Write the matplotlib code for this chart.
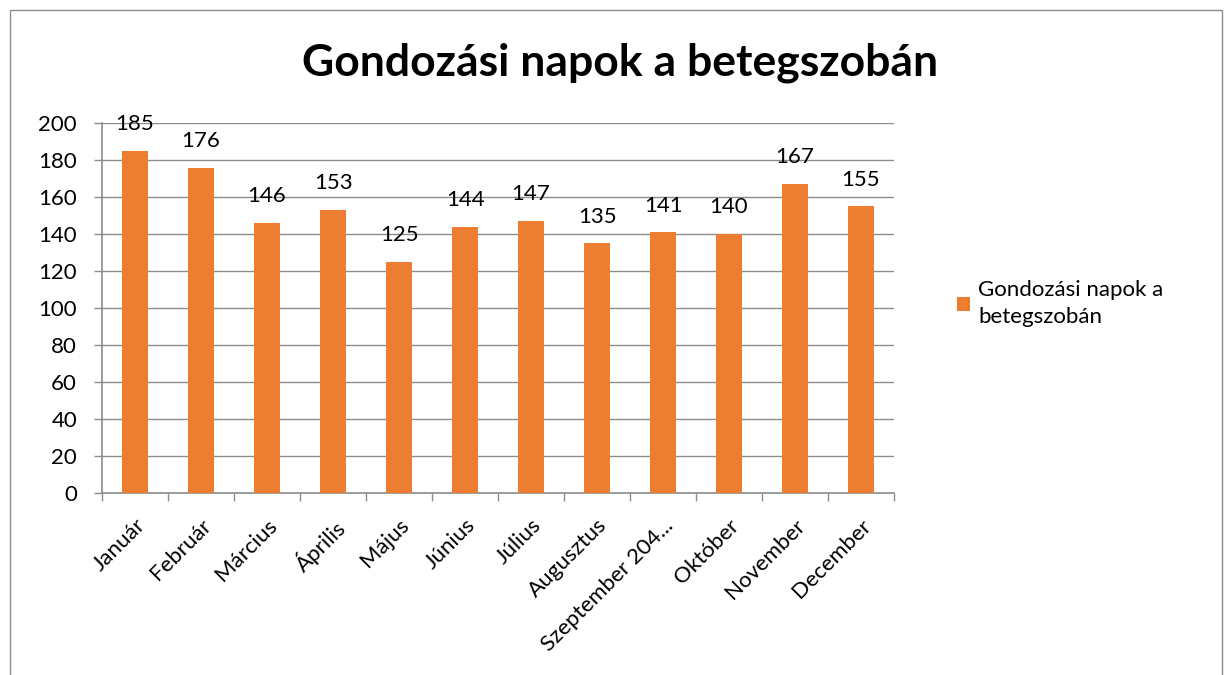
import matplotlib.pyplot as plt
from matplotlib.patches import Rectangle
import numpy as np

plt.rcParams['font.family'] = ['Lato', 'DejaVu Sans']

honapok = ['Január', 'Február', 'Március', 'Április', 'Május', 'Június',
           'Július', 'Augusztus', 'Szeptember 204...', 'Október', 'November', 'December']
napok = [185, 176, 146, 153, 125, 144, 147, 135, 141, 140, 167, 155]
cim = 'Gondozási napok a betegszobán'
jelmagyarazat = 'Gondozási napok a\nbetegszobán'

szurke = '#8c8c8c'
narancs = '#ED7D31'
betu = 16

fig = plt.figure(figsize=(12.25, 6.75), dpi=100)
ax = fig.add_axes([0.0833, 0.2696, 0.6465, 0.548])

x = np.arange(len(honapok))
bars = ax.bar(x, napok, width=0.4, color=narancs, label=jelmagyarazat, zorder=3)
for xi, v in zip(x, napok):
    ax.annotate(str(v), (xi, v), xytext=(0, 12), textcoords='offset points',
                ha='center', va='bottom', fontsize=betu)

ax.set_xlim(-0.5, len(honapok) - 0.5)
ax.set_ylim(0, 200)
ax.set_yticks(range(0, 201, 20))
ax.yaxis.grid(True, color=szurke, linewidth=1, zorder=0)

# category labels at centres, tick marks at boundaries
ax.set_xticks(x)
ax.set_xticklabels(honapok, rotation=45, ha='right', rotation_mode='anchor', fontsize=betu)
ax.set_xticks(np.arange(-0.5, len(honapok)), minor=True)
ax.tick_params(axis='x', which='major', length=0, pad=16)
ax.tick_params(axis='x', which='minor', length=6, color=szurke, width=1)
ax.tick_params(axis='y', length=6, color=szurke, width=1, labelsize=betu, pad=12)

for s in ['top', 'right']:
    ax.spines[s].set_visible(False)
for s in ['left', 'bottom']:
    ax.spines[s].set_color(szurke)
    ax.spines[s].set_linewidth(1.2)

fig.suptitle(cim, x=0.506, y=0.907, fontsize=32, fontweight='bold', va='center')

leg = ax.legend(loc='center left', bbox_to_anchor=(0.774, 0.55), bbox_transform=fig.transFigure,
                frameon=False, fontsize=betu, handlelength=0.6, handleheight=0.6,
                handletextpad=0.35, borderaxespad=0)
for t in leg.get_texts():
    t.set_linespacing(1.45)

# keret a diagram kore
fig.patches.append(Rectangle((0.0082, -0.02), 0.989, 1.005, transform=fig.transFigure,
                             fill=False, edgecolor=szurke, linewidth=1))

fig.savefig('out.png', dpi=100)
